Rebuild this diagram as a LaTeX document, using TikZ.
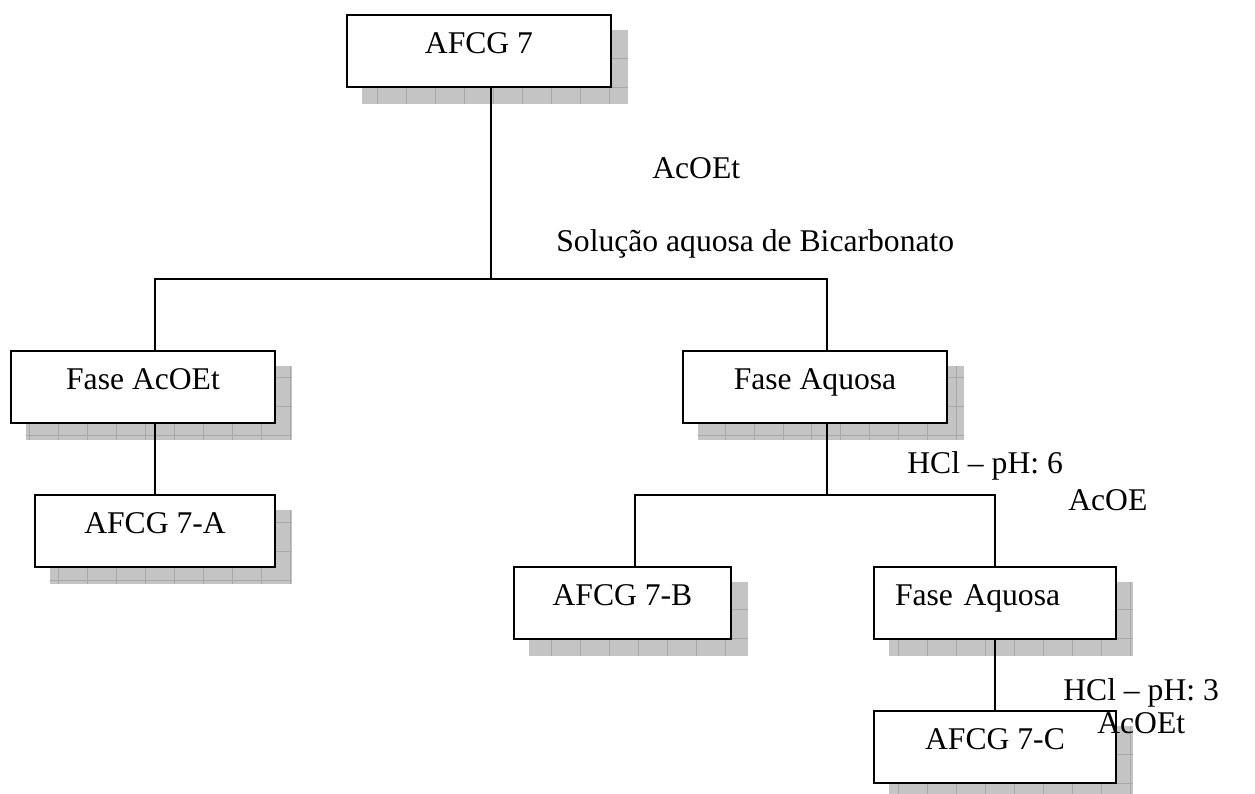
\documentclass[tikz,border=0pt]{standalone}
\usepackage{fontspec}
\setmainfont{Liberation Serif}
\usetikzlibrary{positioning,backgrounds,calc}

\definecolor{shadowgray}{HTML}{C4C4C4}
\definecolor{gridgray}{HTML}{A8A8A8}

\tikzset{
  stage/.style={draw, line width=1.4pt, fill=white, minimum height=1.44cm, inner sep=0pt, text height=10pt, text depth=6.6pt},
  link/.style={line width=1.1pt},
  note/.style={anchor=base west, inner sep=0pt},
  shade/.style={fill=shadowgray},
  shadegrid/.style={draw=gridgray, line width=0.4pt, step=0.58cm}
}

\begin{document}
\begin{tikzpicture}[x=0.02cm, y=-0.02cm, font=\fontsize{18}{21.6}\selectfont]
\useasboundingbox (0,0) rectangle (1255,794);

% boxes
\node[stage, minimum width=5.28cm] (afcg) at (479,51) {AFCG 7};
\node[stage, minimum width=5.28cm] (acoet) at (143,387) {Fase AcOEt};
\node[stage, minimum width=5.28cm] (aquosa) at (815,387) {Fase Aquosa};
\node[stage, minimum width=4.8cm] (afcga) at (155,531) {AFCG 7-A};
\node[stage, minimum width=4.34cm] (afcgb) at (622.5,603) {AFCG 7-B};
\node[stage, minimum width=4.84cm, text width=4cm, align=left] (aquosab) at (995,603) {Fase Aquosa};
\node[stage, minimum width=4.84cm] (afcgc) at (995,747) {AFCG 7-C};

% shadows
\begin{scope}[on background layer]
  \foreach \b in {afcg,acoet,aquosa,afcga,afcgb,aquosab,afcgc}{
    \fill[shade] ($(\b.south west)+(16,16)$) rectangle ($(\b.north east)+(16,16)$);
    \draw[shadegrid] ($(\b.south west)+(16,16)$) grid ($(\b.north east)+(16,16)$);
  }
\end{scope}

% junctions
\coordinate (split1) at (491,279);
\coordinate (split2) at (827,495);

% connectors
\draw[link] (split1 |- afcg.south) -- (split1);
\draw[link] (afcga |- acoet.north) |- (split1) -| (split2 |- aquosa.north);
\draw[link] (afcga |- acoet.south) -- (afcga.north);
\draw[link] (split2 |- aquosa.south) -- (split2);
\draw[link] ($(afcgb.north)+(12.5,0)$) |- (split2) -| (aquosab.north);
\draw[link] (aquosab.south) -- (afcgc.north);

% reagents
\node[note] (solvA) at (652,178) {AcOEt};
\node[note] (bicarb) at (556,252) {Solução aquosa de Bicarbonato};
\node[note] (acid6) at (907,473) {HCl – pH: 6};
\node[note] (solvB) at (1068,510) {AcOE};
\node[note] (acid3) at (1063,700) {HCl – pH: 3};
\node[note] (solvC) at (1097,733) {AcOEt};
\end{tikzpicture}
\end{document}
